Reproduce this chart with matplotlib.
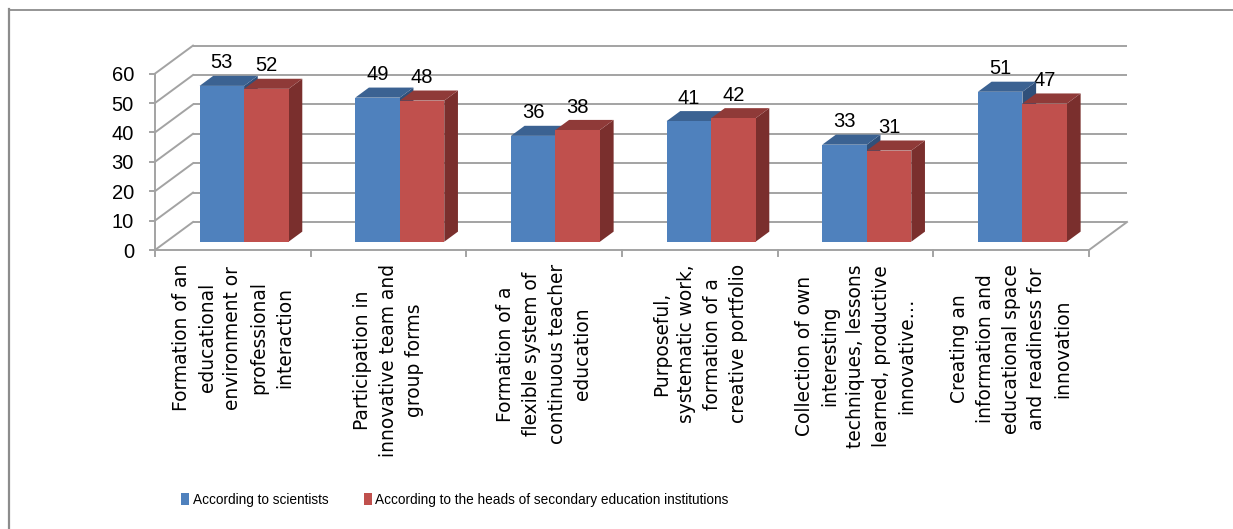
import matplotlib
matplotlib.use("Agg")
import matplotlib.pyplot as plt
from matplotlib.patches import Polygon, Patch
from matplotlib.lines import Line2D

categories = [
    "Formation of an\neducational\nenvironment or\nprofessional\ninteraction",
    "Participation in\ninnovative team and\ngroup forms",
    "Formation of a\nflexible system of\ncontinuous teacher\neducation",
    "Purposeful,\nsystematic work,\nformation of a\ncreative portfolio",
    "Collection of own\ninteresting\ntechniques, lessons\nlearned, productive\ninnovative…",
    "Creating an\ninformation and\neducational space\nand readiness for\ninnovation",
]
scientists = [53, 49, 36, 41, 33, 51]
heads = [52, 48, 38, 42, 31, 47]
series_names = [
    "According to scientists",
    "According to the heads of secondary education institutions",
]
y_ticks = [0, 10, 20, 30, 40, 50, 60]

# colours: front, top, side faces
blue = ("#4F81BD", "#3B6292", "#30507A")
red = ("#C0504D", "#8F3A38", "#7A2F2D")
grid_color = "#A3A3A3"

W, H = 1233, 529
fig = plt.figure(figsize=(W / 100, H / 100), dpi=100)
ax = fig.add_axes([0, 0, 1, 1])

# front plane: category width and value scale in pixels
x0_px, cat_px = 155, 155.67
y0_px, unit_px = 250, 2.94
ax.set_xlim(-x0_px / cat_px, (W - x0_px) / cat_px)
ax.set_ylim((y0_px - H) / unit_px, y0_px / unit_px)
ax.axis("off")

n = len(categories)
ymax = y_ticks[-1]
DX, DY = 38 / cat_px, 28 / unit_px  # oblique depth of the plot box
f_front, f_back = 0.296, 0.656      # bar depth inside the box
bw = 0.286                          # bar width per series

# back wall gridlines and side wall diagonals
for v in y_ticks:
    ax.plot([DX, n + DX], [v + DY, v + DY], color=grid_color, lw=1.4, zorder=1,
            solid_capstyle="butt")
    ax.plot([0, DX], [v, v + DY], color=grid_color, lw=1.4, zorder=1)
    ax.plot([-5 / cat_px, 0], [v, v], color=grid_color, lw=1.4, zorder=1)
    ax.text(-21 / cat_px, v - 0.7, str(v), ha="right", va="center",
            fontsize=14.5, family="Liberation Sans", color="black")

# front axis, floor edges and category ticks
ax.plot([0, 0], [0, ymax], color=grid_color, lw=1.4, zorder=1)
ax.plot([0, n], [0, 0], color=grid_color, lw=1.4, zorder=1)
ax.plot([n, n + DX], [0, DY], color=grid_color, lw=1.4, zorder=1)
for i in range(n + 1):
    ax.plot([i, i], [0, -6 / unit_px], color=grid_color, lw=1.4, zorder=1)


def draw_bar(xl, xr, v, faces, z):
    ax_, ay_ = f_front * DX, f_front * DY
    bx_, by_ = f_back * DX, f_back * DY
    front, top, side = faces
    ax.add_patch(Polygon([(xr + ax_, ay_), (xr + bx_, by_), (xr + bx_, v + by_),
                          (xr + ax_, v + ay_)], closed=True, fc=side, ec="none", zorder=z))
    ax.add_patch(Polygon([(xl + ax_, v + ay_), (xr + ax_, v + ay_), (xr + bx_, v + by_),
                          (xl + bx_, v + by_)], closed=True, fc=top, ec="none", zorder=z))
    ax.add_patch(Polygon([(xl + ax_, ay_), (xr + ax_, ay_), (xr + ax_, v + ay_),
                          (xl + ax_, v + ay_)], closed=True, fc=front, ec="none", zorder=z))
    ax.text((xl + xr) / 2 + ax_, v + ay_ + 7.8, str(v), ha="center", va="center",
            fontsize=14.5, family="Liberation Sans", color="black", zorder=10)


z = 2
for i in range(n):
    c = i + 0.5
    draw_bar(c - bw, c, scientists[i], blue, z)
    z += 1
    draw_bar(c, c + bw, heads[i], red, z)
    z += 1
    ax.text(c, -14 / unit_px, categories[i], rotation=90, ha="center", va="top",
            multialignment="center", fontsize=13.4, family="DejaVu Sans",
            linespacing=1.45, color="black")

# legend
handles = [Patch(facecolor=blue[0], edgecolor="none"),
           Patch(facecolor=red[0], edgecolor="none")]
fig.legend(handles, series_names, loc="center", ncol=2, frameon=False,
           bbox_to_anchor=(455 / W, 1 - 500 / H),
           prop={"family": "Liberation Sans", "size": 9.8},
           handlelength=0.6, handleheight=1.0, handletextpad=0.25,
           columnspacing=2.6)

# chart frame (left and top edges)
fig.add_artist(Line2D([9 / W, 9 / W], [0, 1 - 9 / H], color="#8C8C8C", lw=1.6))
fig.add_artist(Line2D([9 / W, 1], [1 - 10 / H, 1 - 10 / H], color="#8C8C8C", lw=1.3))

fig.savefig("out.png", dpi=100)
